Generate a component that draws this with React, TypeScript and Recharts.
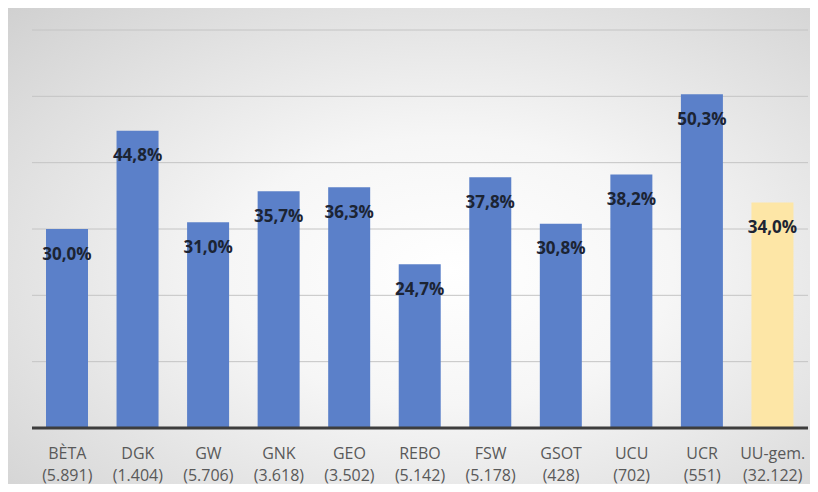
import React from "react";
import { BarChart, Bar, XAxis, YAxis, CartesianGrid, Cell, LabelList } from "recharts";

const categories = ["BÈTA", "DGK", "GW", "GNK", "GEO", "REBO", "FSW", "GSOT", "UCU", "UCR", "UU-gem."];
const counts = ["5.891", "1.404", "5.706", "3.618", "3.502", "5.142", "5.178", "428", "702", "551", "32.122"];
const values = [30.0, 44.8, 31.0, 35.7, 36.3, 24.7, 37.8, 30.8, 38.2, 50.3, 34.0];
const yTicks = [0, 10, 20, 30, 40, 50, 60];

const data = categories.map((c, i) => ({ name: c, count: counts[i], value: values[i] }));

const BLUE = "#5b80c9";
const YELLOW = "#fde6a6";
const FONT = "'Open Sans', 'Liberation Sans', sans-serif";

const Tick = (props: any) => {
  const { x, y, payload, index } = props;
  const d = data[index] || data.find((e) => e.name === payload.value);
  return (
    <g>
      <text x={x} y={y + 22.5} textAnchor="middle" fill="#595959" fontSize={16} fontFamily={FONT}>
        {payload.value}
      </text>
      <text x={x} y={y + 45} textAnchor="middle" fill="#595959" fontSize={16} fontFamily={FONT}>
        ({d ? d.count : ""})
      </text>
    </g>
  );
};

const ValueLabel = (props: any) => {
  const { x, y, width, value } = props;
  return (
    <text
      x={x + width / 2}
      y={y + 24}
      textAnchor="middle"
      dominantBaseline="central"
      fill="#1c2433"
      fontSize={17}
      fontWeight="bold"
      fontFamily={FONT}
    >
      {value.toFixed(1).replace(".", ",") + "%"}
    </text>
  );
};

export default function App() {
  return (
    <div
      style={{
        width: 818,
        height: 492,
        margin: -8,
        background: "radial-gradient(ellipse at 55% 55%, #ffffff 0%, #f6f6f6 35%, #cfcfcf 100%)",
      }}
    >
      <BarChart
        width={818}
        height={492}
        data={data}
        margin={{ top: 30, right: 10, bottom: 0, left: 32 }}
        barSize={42}
      >
        <CartesianGrid vertical={false} stroke="#c4c4c4" strokeWidth={1} />
        <YAxis hide domain={[0, 60]} ticks={yTicks} />
        <XAxis
          dataKey="name"
          height={64}
          axisLine={{ stroke: "#3d3d3d", strokeWidth: 3 }}
          tickLine={false}
          tick={<Tick />}
          interval={0}
        />
        <Bar dataKey="value" isAnimationActive={false}>
          {data.map((d, i) => (
            <Cell key={i} fill={i === data.length - 1 ? YELLOW : BLUE} />
          ))}
          <LabelList dataKey="value" content={<ValueLabel />} />
        </Bar>
      </BarChart>
    </div>
  );
}
